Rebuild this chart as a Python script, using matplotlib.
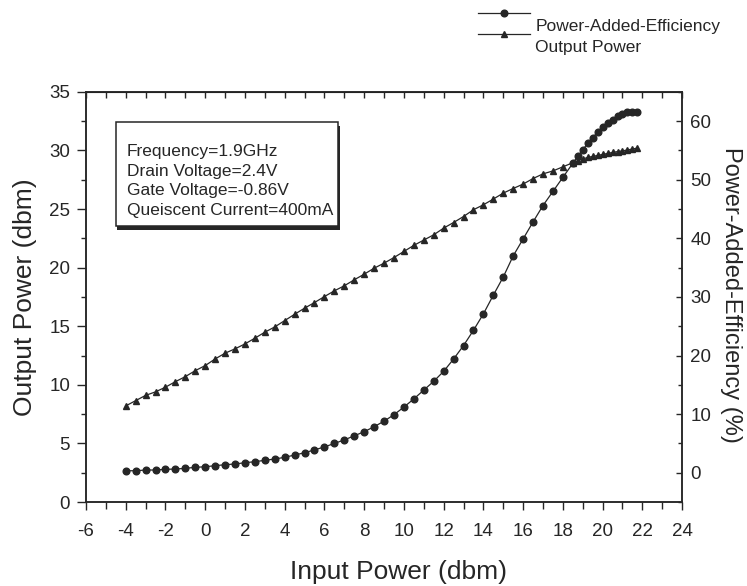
import matplotlib
matplotlib.use("Agg")
import matplotlib.pyplot as plt
import matplotlib.patheffects as pe
from matplotlib.patches import Rectangle
from matplotlib.ticker import MultipleLocator

plt.rcParams['font.family'] = ['Liberation Sans', 'DejaVu Sans']
plt.rcParams['axes.unicode_minus'] = False

# Input power sweep (dbm)
input_power = [-4, -3.5, -3, -2.5, -2, -1.5, -1, -0.5, 0, 0.5, 1, 1.5, 2, 2.5, 3, 3.5,
               4, 4.5, 5, 5.5, 6, 6.5, 7, 7.5, 8, 8.5, 9, 9.5, 10, 10.5, 11, 11.5,
               12, 12.5, 13, 13.5, 14, 14.5, 15, 15.5, 16, 16.5, 17, 17.5, 18, 18.5,
               18.75, 19, 19.25, 19.5, 19.75, 20, 20.25, 20.5, 20.75, 21, 21.25, 21.5, 21.75]

# Output power (dbm), left axis
output_power = [8.20, 8.65, 9.10, 9.40, 9.80, 10.27, 10.70, 11.21, 11.64, 12.21, 12.70, 13.07,
                13.49, 13.98, 14.49, 14.94, 15.48, 16.02, 16.54, 17.02, 17.53, 18.02, 18.45,
                18.96, 19.44, 19.95, 20.38, 20.86, 21.38, 21.90, 22.35, 22.80, 23.37, 23.85,
                24.36, 24.94, 25.36, 25.85, 26.36, 26.75, 27.13, 27.60, 28.00, 28.25, 28.60,
                28.95, 29.12, 29.27, 29.40, 29.49, 29.57, 29.66, 29.74, 29.83, 29.90, 29.96,
                30.04, 30.12, 30.20]

# Power-added efficiency (%), right axis
pae = [0.34, 0.34, 0.46, 0.46, 0.58, 0.63, 0.75, 0.92, 1.02, 1.20, 1.37, 1.49, 1.71, 1.88,
       2.12, 2.34, 2.63, 3.02, 3.41, 3.9, 4.4, 5.0, 5.6, 6.3, 7.0, 7.85, 8.8, 9.9, 11.2,
       12.6, 14.1, 15.6, 17.3, 19.4, 21.7, 24.3, 27.1, 30.3, 33.4, 37.0, 39.9, 42.8, 45.6,
       48.0, 50.4, 52.8, 54.0, 55.1, 56.2, 57.2, 58.1, 59.0, 59.6, 60.2, 60.8, 61.2, 61.5,
       61.6, 61.6]

conditions = ["Frequency=1.9GHz", "Drain Voltage=2.4V", "Gate Voltage=-0.86V",
              "Queiscent Current=400mA"]

INK = "#262626"

fig = plt.figure(figsize=(7.47, 5.86), dpi=100)
ax = fig.add_axes([0.1151, 0.1433, 0.798, 0.700])
ax2 = ax.twinx()

l_out, = ax.plot(input_power, output_power, color=INK, lw=0.9, marker="^", ms=5,
                 mfc=INK, mec=INK, label="Output Power")
l_pae, = ax2.plot(input_power, pae, color=INK, lw=0.9, marker="o", ms=4.8,
                  mfc=INK, mec=INK, label="Power-Added-Efficiency")

ax.set_xlim(-6, 24)
ax.set_ylim(0, 35)
ax2.set_ylim(-5, 65)
ax.set_xticks(range(-6, 25, 2))
ax.xaxis.set_minor_locator(MultipleLocator(1))
ax.set_yticks(range(0, 36, 5))
ax.yaxis.set_minor_locator(MultipleLocator(2.5))
ax2.set_yticks(range(0, 61, 10))
ax2.yaxis.set_minor_locator(MultipleLocator(5))

for a in (ax, ax2):
    for s in a.spines.values():
        s.set_linewidth(1.1)
        s.set_color(INK)

ax.tick_params(axis="x", which="both", direction="out", top=False, labelsize=13.5,
               colors=INK, width=1)
ax.tick_params(axis="x", which="major", length=6, pad=9)
ax.tick_params(axis="x", which="minor", length=5)
ax.tick_params(axis="y", which="both", direction="out", right=False, labelsize=13.5,
               colors=INK, width=1)
ax.tick_params(axis="y", which="major", length=6.5, pad=5)
ax.tick_params(axis="y", which="minor", length=3.6)
ax2.tick_params(axis="y", which="both", direction="in", labelsize=13.5, colors=INK, width=1)
ax2.tick_params(axis="y", which="major", length=4.3, pad=6)
ax2.tick_params(axis="y", which="minor", length=3)

top = ax.secondary_xaxis("top")
top.set_xticks(range(-6, 25, 2))
top.xaxis.set_minor_locator(MultipleLocator(1))
top.tick_params(which="both", direction="in", length=4, width=1, labeltop=False, colors=INK)

ax.set_xlabel("Input Power (dbm)", fontsize=19, color=INK)
ax.xaxis.set_label_coords(0.524, -0.1415)
ax.set_ylabel("Output Power (dbm)", fontsize=19, color=INK)
ax.yaxis.set_label_coords(-0.082, 0.5)
ax2.set_ylabel("Power-Added-Efficiency (%)", fontsize=17, color=INK, rotation=270,
               va="bottom")
ax2.yaxis.set_label_coords(1.064, 0.505)

# conditions box with drop shadow
box = Rectangle((0.050, 0.673), 0.373, 0.254, transform=ax.transAxes, fc="white",
                ec=INK, lw=1.1, zorder=5)
box.set_path_effects([pe.SimplePatchShadow(offset=(1, -3), shadow_rgbFace=INK, alpha=1),
                      pe.Normal()])
ax2.add_patch(box)
ax2.text(0.069, 0.872, "\n".join(conditions), transform=ax.transAxes, fontsize=12.5,
         va="top", ha="left", linespacing=1.38, color=INK, zorder=6)

leg = fig.legend(handles=[l_pae, l_out], loc="upper left", bbox_to_anchor=(0.640, 0.988),
                 frameon=False, fontsize=12.5, handlelength=3.0, handletextpad=0.3,
                 borderpad=0, borderaxespad=0, labelspacing=0.35, labelcolor=INK)
# labels sit a little below their line samples, as in the original
for t in leg.get_texts():
    t.set_va("top")

fig.savefig("out.png", dpi=100)
